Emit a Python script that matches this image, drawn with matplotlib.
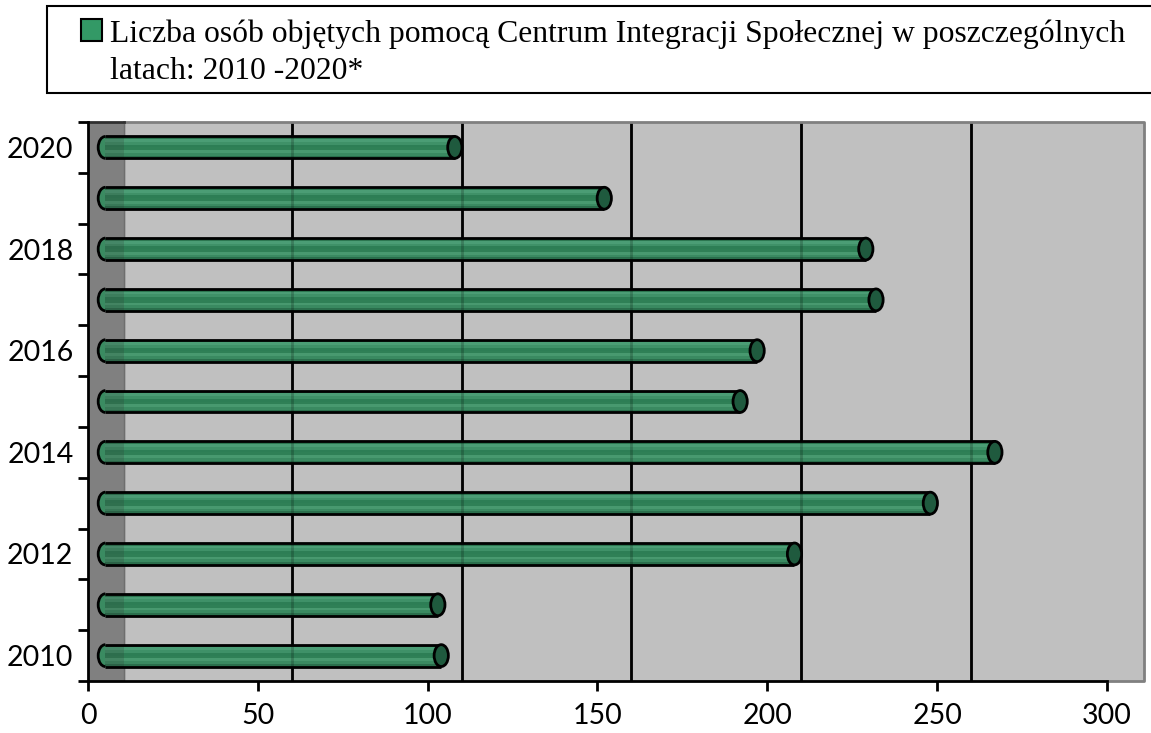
# horizontal "cylinder" bar chart: people helped by the Social Integration Centre
import numpy as np
from matplotlib import pyplot as plt
from matplotlib.patches import Ellipse, Rectangle, Arc

# data
years = [2010, 2011, 2012, 2013, 2014, 2015, 2016, 2017, 2018, 2019, 2020]
people = [104, 103, 208, 248, 267, 192, 197, 232, 229, 152, 108]
x_ticks = [0, 50, 100, 150, 200, 250, 300]
grid_x = [60, 110, 160, 210, 260]
legend_lines = ["Liczba osób objętych pomocą Centrum Integracji Społecznej w poszczególnych",
                "latach: 2010 -2020*"]

# style
W, H = 1151, 733
depth = 10.5                 # 3d wall offset in data units
x_max = 310.9
bar_h = 0.43
cap_w = 4.2
start = 3.0
stripes = ['#2c7650', '#4b9d75', '#3f9168', '#2d7e55', '#2f8056', '#48996f', '#3a8a61', '#2a6f4c']

fig = plt.figure(figsize=(W / 100, H / 100), dpi=100)
ax = fig.add_axes([88 / W, 1 - 681 / H, (1144 - 88) / W, (681 - 122) / H])
ax.set_xlim(0, x_max)
ax.set_ylim(-0.5, len(years) - 0.5)
ax.set_facecolor('#c0c0c0')
for s in ax.spines.values():
    s.set_visible(False)

# back wall / depth strip and grid
ax.axvspan(0, depth, color='#808080', zorder=0)
ax.axvline(depth, color='#6e6e6e', lw=1, zorder=0.5)
ax.vlines(grid_x, -0.5, len(years) - 0.5, color='black', lw=2, zorder=1)

# bars
for i, v in enumerate(people):
    x0 = start + cap_w / 2
    ax.add_patch(Ellipse((x0, i), cap_w, bar_h, facecolor='#3a8b61', lw=0, zorder=2))
    ax.add_patch(Arc((x0, i), cap_w, bar_h, theta1=90, theta2=270, color='black', lw=2, zorder=4))
    n = len(stripes)
    for k, c in enumerate(stripes):
        top = i + bar_h / 2 - k * bar_h / n
        ax.barh(top - bar_h / (2 * n), v - x0, height=bar_h / n, left=x0, color=c, lw=0, zorder=3)
    ax.hlines([i - bar_h / 2, i + bar_h / 2], x0, v, color='black', lw=2, zorder=4)
    ax.add_patch(Ellipse((v, i), cap_w, bar_h, facecolor='#1f5a3e', edgecolor='black', lw=2, zorder=5))
    # the depth strip shows faintly through the bar
    ax.add_patch(Rectangle((x0, i - bar_h / 2), depth - x0, bar_h, facecolor='#303030',
                           alpha=0.2, lw=0, zorder=3.5))

# faint see-through of grid over the bars
ax.vlines(grid_x, -0.5, len(years) - 0.5, color='black', lw=2, alpha=0.2, zorder=3.5)

# frame
ax.plot([0, 0], [-0.5, len(years) - 0.5], color='black', lw=2, clip_on=False, zorder=6)
ax.plot([0, 300], [-0.5, -0.5], color='black', lw=2, clip_on=False, zorder=6)
ax.plot([300, x_max, x_max, depth], [-0.5, -0.5, len(years) - 0.5, len(years) - 0.5],
        color='#808080', lw=2, clip_on=False, zorder=5.5)
ax.plot([0, depth], [len(years) - 0.5, len(years) - 0.5], color='#303030', lw=2, clip_on=False, zorder=5.5)

# ticks
tick_font = {'family': 'Lato', 'size': 20.5}
ax.set_xticks(x_ticks)
ax.set_xticklabels([str(t) for t in x_ticks], fontdict=tick_font)
ax.tick_params(axis='x', length=7, width=2, pad=9)
ax.set_yticks(np.arange(-0.5, len(years), 1.0))
ax.set_yticklabels([])
ax.tick_params(axis='y', which='major', length=7, width=2)
ax.set_yticks(range(0, len(years), 2), minor=True)
ax.set_yticklabels([str(years[k]) for k in range(0, len(years), 2)], minor=True, fontdict=tick_font)
ax.tick_params(axis='y', which='minor', length=0, pad=10.5)

# legend box
fig.patches.append(Rectangle((47 / W, 1 - 93 / H), 1.2, 87 / H, transform=fig.transFigure,
                             facecolor='white', edgecolor='black', lw=1.5))
fig.patches.append(Rectangle((81 / W, 1 - 41 / H), 21 / W, 22 / H, transform=fig.transFigure,
                             facecolor='#339966', edgecolor='black', lw=1.5))
fig.text(110 / W, 1 - 42 / H, legend_lines[0], family='Liberation Serif', size=22.8, va='baseline')
fig.text(110 / W, 1 - 79 / H, legend_lines[1], family='Liberation Serif', size=22.8, va='baseline')

plt.savefig('out.png', dpi=100)
